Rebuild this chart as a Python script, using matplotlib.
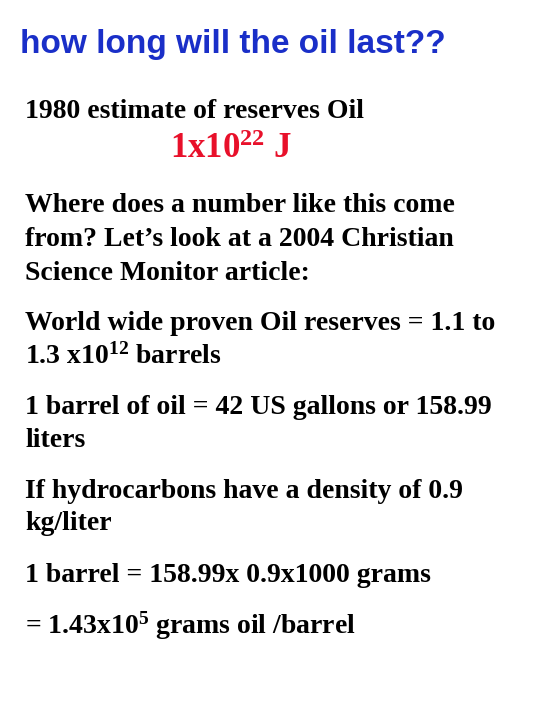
import matplotlib
matplotlib.use('Agg')
import matplotlib.pyplot as plt

plt.rcParams['mathtext.fontset'] = 'custom'
plt.rcParams['mathtext.rm'] = 'Liberation Serif:bold'
plt.rcParams['mathtext.it'] = 'Liberation Serif:bold'
plt.rcParams['mathtext.bf'] = 'Liberation Serif:bold'

title = 'how long will the oil last??'
body_lines = [
    '1980 estimate of reserves Oil',
    'Where does a number like this come',
    'from? Let\u2019s look at a 2004 Christian',
    'Science Monitor article:',
    'World wide proven Oil reserves = 1.1 to',
    '1.3 x10$^{12}$ barrels',
    '1 barrel of oil = 42 US gallons or 158.99',
    'liters',
    'If hydrocarbons have a density of 0.9',
    'kg/liter',
    '1 barrel = 158.99x 0.9x1000 grams',
    '= 1.43x10$^{5}$ grams oil /barrel',
]
body_y = [112, 206, 240, 274, 323, 356, 407, 440, 491, 524, 576, 626]
red_text = '1x10$^{22}$ J'

W, H = 540, 720
fig = plt.figure(figsize=(5.4, 7.2), dpi=100)
fig.patch.set_facecolor('white')

fig.text(20 / W, 1 - 45 / H, title, color='#1a2fc8', fontsize=24,
         fontweight='bold', family='Liberation Sans', va='center')

for txt, y in zip(body_lines, body_y):
    fig.text(25 / W, 1 - y / H, txt, fontsize=20, fontweight='bold',
             family='Liberation Serif', va='center')

fig.text(170 / W, 1 - 150 / H, red_text, color='#e8102a', fontsize=25,
         fontweight='bold', family='Liberation Serif', va='center')

fig.savefig('out.png', dpi=100)
